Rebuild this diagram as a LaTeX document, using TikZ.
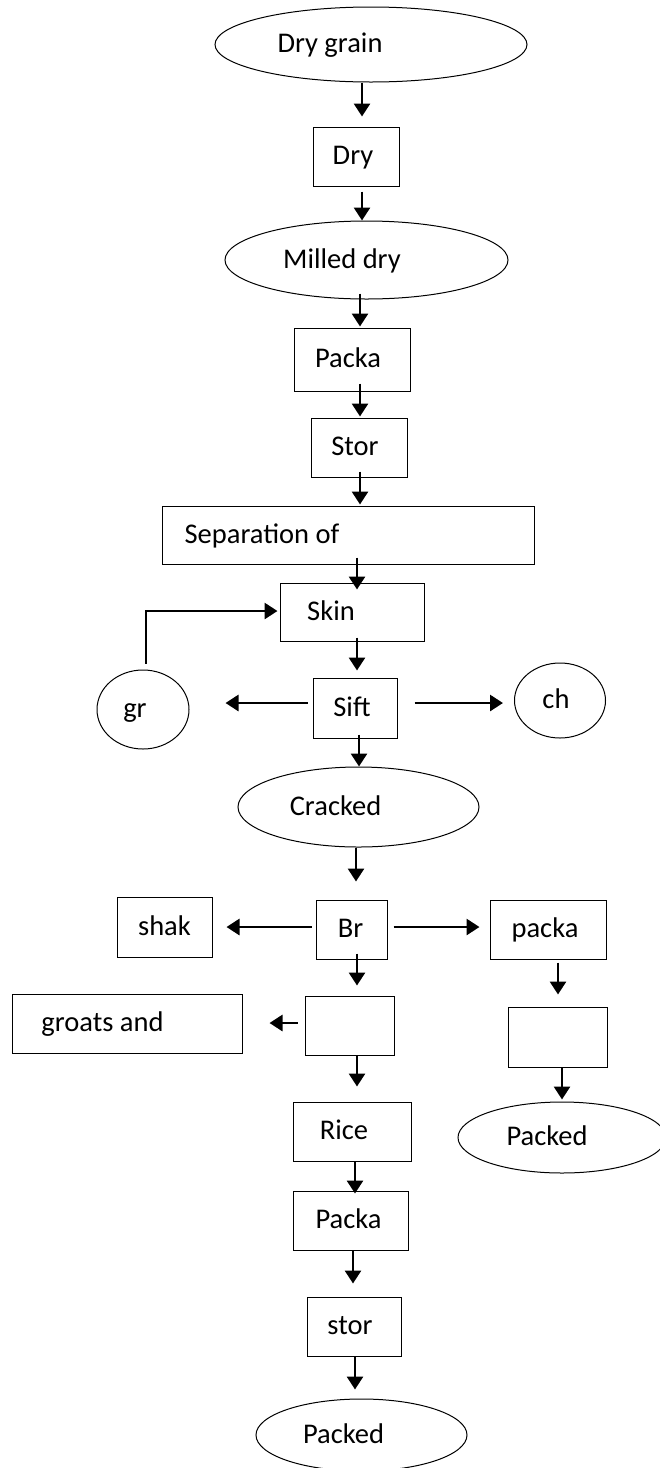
\documentclass[tikz,border=0pt]{standalone}
\usepackage{fontspec}
\setmainfont{Carlito}
\usetikzlibrary{arrows.meta,shapes.geometric,calc}
\begin{document}
\begin{tikzpicture}[x=1pt,y=-1pt,
 box/.style={draw, line width=1pt, rectangle, inner sep=0pt},
 oval/.style={draw, line width=1pt, ellipse, inner sep=0pt},
 txt/.style={font=\fontsize{28.5}{30}\selectfont, inner sep=0pt, text height=22pt, text depth=6pt},
 arr/.style={line width=2.8pt, -{Triangle[length=13pt,width=16pt]}}
]
\path[use as bounding box, clip] (0,0) rectangle (660,1468);

\node[oval, minimum width=312pt, minimum height=75pt, label={[txt,xshift=-41pt]center:Dry grain}] (drygrain) at (371,44.5) {};
\node[box, minimum width=86pt, minimum height=59pt, label={[txt,xshift=-3pt]center:Dry}] (dry) at (356,156.5) {};
\node[oval, minimum width=283pt, minimum height=78pt, label={[txt,xshift=-24.5pt]center:Milled dry}] (milled) at (366.5,260) {};
\node[box, minimum width=116pt, minimum height=63pt, label={[txt,xshift=-4pt]center:Packa}] (packa) at (352,359.5) {};
\node[box, minimum width=96pt, minimum height=59pt, label={[txt,xshift=-4pt]center:Stor}] (stor) at (359,447.5) {};
\node[box, minimum width=372pt, minimum height=58pt, label={[txt,xshift=-86pt]center:Separation of}] (sep) at (348,535) {};
\node[box, minimum width=144pt, minimum height=58pt, label={[txt,xshift=-21pt]center:Skin}] (skin) at (352,612) {};
\node[box, minimum width=84pt, minimum height=60pt, label={[txt,xshift=-3pt]center:Sift}] (sift) at (355,708) {};
\node[oval, minimum width=92pt, minimum height=79pt, label={[txt,xshift=-8pt]center:gr}] (gr) at (143,709.5) {};
\node[oval, minimum width=91pt, minimum height=75pt, label={[txt,xshift=-4pt]center:ch}] (ch) at (560,700.5) {};
\node[oval, minimum width=241pt, minimum height=80pt, label={[txt,xshift=-23pt]center:Cracked}] (cracked) at (358.5,807) {};
\node[box, minimum width=71pt, minimum height=59pt, label={[txt,xshift=-1pt]center:Br}] (br) at (351.5,929.5) {};
\node[box, minimum width=95pt, minimum height=60pt, label={[txt]center:shak}] (shak) at (164.5,927) {};
\node[box, minimum width=116pt, minimum height=59pt, label={[txt,xshift=-3pt]center:packa}] (packb) at (548,929.5) {};
\node[box, minimum width=89pt, minimum height=59pt] (blank) at (349.5,1025.5) {};
\node[box, minimum width=230pt, minimum height=59pt, label={[txt,xshift=-24.5pt]center:groats and}] (groats) at (127,1023.5) {};
\node[box, minimum width=99pt, minimum height=60pt] (rblank) at (557.5,1037) {};
\node[oval, minimum width=208pt, minimum height=71pt, label={[txt,xshift=-15pt]center:Packed}] (rpacked) at (562,1137.5) {};
\node[box, minimum width=118pt, minimum height=59pt, label={[txt,xshift=-8pt]center:Rice}] (rice) at (352,1131.5) {};
\node[box, minimum width=115pt, minimum height=59pt, label={[txt,xshift=-2pt]center:Packa}] (packc) at (350.5,1220.5) {};
\node[box, minimum width=94pt, minimum height=59pt, label={[txt,xshift=-4pt]center:stor}] (storb) at (354,1326.5) {};
\node[oval, minimum width=211pt, minimum height=72pt, label={[txt,xshift=-18pt]center:Packed}] (packed) at (361.5,1435) {};

\draw[arr] (drygrain.south -| 362,0) -- ($(dry.north -| 362,0)+(0,-10)$);
\draw[arr] ($(dry.south -| 362,0)+(0,5)$) -- (milled.north -| 362,0);
\draw[arr] ($(milled.south -| 360,0)+(0,-6)$) -- ($(packa.north -| 360,0)+(0,-1)$);
\draw[arr] ($(packa.south -| 360,0)+(0,-8)$) -- ($(stor.north -| 360,0)+(0,-1)$);
\draw[arr] ($(stor.south -| 360,0)+(0,-6)$) -- ($(sep.north -| 360,0)+(0,-1)$);
\draw[arr] ($(sep.south -| 357,0)+(0,-7)$) -- ($(skin.north -| 357,0)+(0,7)$);
\draw[arr] ($(skin.south -| 357,0)+(0,-4)$) -- ($(sift.north -| 357,0)+(0,-7)$);
\draw[arr] ($(sift.west |- 0,703)+(-5,0)$) -- ($(gr.east |- 0,703)+(36,0)$);
\draw[arr] ($(sift.east |- 0,703)+(17,0)$) -- ($(ch.west |- 0,703)+(-11,0)$);
\draw[arr] ($(sift.south -| 359,0)+(0,-4)$) -- (cracked.north -| 359,0);
\draw[arr] (cracked.south -| 356,0) -- ($(br.north -| 356,0)+(0,-18)$);
\draw[arr] ($(br.west |- 0,927)+(-4,0)$) -- ($(shak.east |- 0,927)+(14,0)$);
\draw[arr] ($(br.east |- 0,927)+(6,0)$) -- ($(packb.west |- 0,927)+(-10,0)$);
\draw[arr] ($(br.south -| 357,0)+(0,-6)$) -- ($(blank.north -| 357,0)+(0,-10)$);
\draw[arr] ($(blank.west |- 0,1023)+(-7,0)$) -- ($(groats.east |- 0,1023)+(27,0)$);
\draw[arr] (blank.south -| 357,0) -- ($(rice.north -| 357,0)+(0,-15)$);
\draw[arr] ($(packb.south -| 558,0)+(0,3)$) -- ($(rblank.north -| 558,0)+(0,-12)$);
\draw[arr] (rblank.south -| 562,0) -- ($(rpacked.north -| 562,0)+(0,-2)$);
\draw[arr] (rice.south -| 355,0) -- ($(packc.north -| 355,0)+(0,3)$);
\draw[arr] (packc.south -| 353,0) -- ($(storb.north -| 353,0)+(0,-13)$);
\draw[arr] (storb.south -| 355,0) -- ($(packed.north -| 355,0)+(0,-9)$);
\draw[arr] ($(gr.north -| 146,0)+(0,-6)$) |- ($(skin.west |- 0,611)+(-2,0)$);
\end{tikzpicture}
\end{document}
